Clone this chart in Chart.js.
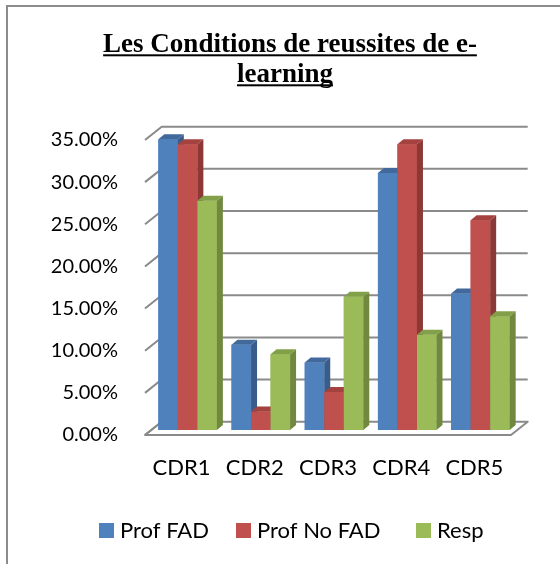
<!DOCTYPE html>
<html>
<head>
<meta charset="utf-8">
<script src="https://cdn.jsdelivr.net/npm/chart.js@4.4.1/dist/chart.umd.min.js"></script>
<style>
    html, body { margin: 0; padding: 0; background: #ffffff; }
    #wrap { position: relative; width: 560px; height: 564px; }
</style>
</head>
<body>
<div id="wrap"><canvas id="cdrChart" width="560" height="564"></canvas></div>
<script>
// values (percent)
const categories = ['CDR1', 'CDR2', 'CDR3', 'CDR4', 'CDR5'];
const profFAD = [34.5, 10.1, 8.0, 30.5, 16.2];
const profNoFAD = [33.9, 2.2, 4.5, 33.9, 24.9];
const resp = [27.2, 9.0, 15.8, 11.3, 13.5];
const yTicks = [0, 5, 10, 15, 20, 25, 30, 35];
const titleLines = ['Les Conditions de reussites de e-', 'learning'];
const seriesNames = ['Prof FAD', 'Prof No FAD', 'Resp'];

const frontColors = ['#4F81BD', '#C0504D', '#9BBB59'];
const sideColors = ['#385D8A', '#8C3836', '#71893F'];
const topColors = ['#41699C', '#A3423F', '#82A049'];

const labelFont = "Lato, 'Open Sans', sans-serif";

// 3d offsets, relative to the plane the bars stand in
const DEPTH = { dx: 6, dy: -5 };
const FRONT = { dx: -6, dy: 5 };
const BACK = { dx: 10.7, dy: -8.3 };

function poly(ctx, pts, fill) {
    ctx.beginPath();
    ctx.moveTo(pts[0][0], pts[0][1]);
    for (let i = 1; i < pts.length; i++) ctx.lineTo(pts[i][0], pts[i][1]);
    ctx.closePath();
    ctx.fillStyle = fill;
    ctx.fill();
}

const frame3d = {
    id: 'frame3d',
    beforeDatasetsDraw(chart) {
        const { ctx, chartArea: a, scales } = chart;
        const y = scales.y;
        ctx.save();
        ctx.strokeStyle = '#8a8a8a';
        ctx.lineWidth = 2;
        ctx.lineJoin = 'round';

        // back wall gridlines + left wall diagonals
        yTicks.forEach((v) => {
            const py = y.getPixelForValue(v);
            ctx.beginPath();
            ctx.moveTo(a.left + FRONT.dx, py + FRONT.dy);
            ctx.lineTo(a.left + BACK.dx, py + BACK.dy);
            if (v > 0) ctx.lineTo(a.right + BACK.dx, py + BACK.dy);
            ctx.stroke();
        });

        // floor
        const b = y.getPixelForValue(0);
        ctx.beginPath();
        ctx.moveTo(a.left + FRONT.dx, b + FRONT.dy);
        ctx.lineTo(a.right + FRONT.dx, b + FRONT.dy);
        ctx.lineTo(a.right + BACK.dx, b + BACK.dy);
        ctx.lineTo(a.left + BACK.dx, b + BACK.dy);
        ctx.closePath();
        ctx.stroke();
        ctx.restore();
    },
    afterDatasetsDraw(chart) {
        const { ctx } = chart;
        const metas = chart.data.datasets.map((d, i) => chart.getDatasetMeta(i));
        ctx.save();
        for (let j = 0; j < categories.length; j++) {
            metas.forEach((meta, i) => {
                const el = meta.data[j];
                el.draw(ctx);
                const { x, y, base, width } = el.getProps(['x', 'y', 'base', 'width'], true);
                const l = x - width / 2;
                const r = x + width / 2;
                poly(ctx, [[r, y], [r + DEPTH.dx, y + DEPTH.dy], [r + DEPTH.dx, base + DEPTH.dy], [r, base]], sideColors[i]);
                poly(ctx, [[l, y], [r, y], [r + DEPTH.dx, y + DEPTH.dy], [l + DEPTH.dx, y + DEPTH.dy]], topColors[i]);
            });
        }
        ctx.restore();
    },
};

const decorations = {
    id: 'decorations',
    afterDraw(chart) {
        const { ctx } = chart;
        ctx.save();

        // outer frame (left and top edges only are visible)
        ctx.strokeStyle = '#8c8c8c';
        ctx.lineWidth = 2;
        ctx.beginPath();
        ctx.moveTo(7, 564);
        ctx.lineTo(7, 6);
        ctx.lineTo(560, 6);
        ctx.stroke();

        // title, bold and underlined
        ctx.fillStyle = '#000000';
        ctx.font = "bold 27px 'Liberation Serif', 'Times New Roman', serif";
        ctx.textAlign = 'left';
        ctx.textBaseline = 'alphabetic';
        const centers = [290, 285];
        const baselines = [51.7, 81.7];
        titleLines.forEach((line, i) => {
            const w = ctx.measureText(line).width;
            const x0 = centers[i] - w / 2;
            ctx.fillText(line, x0, baselines[i]);
            ctx.fillRect(x0, baselines[i] + 2.6, w, 2);
        });

        // legend
        ctx.font = '22px ' + labelFont;
        ctx.textBaseline = 'middle';
        const legendX = [99, 236, 416];
        seriesNames.forEach((name, i) => {
            ctx.fillStyle = frontColors[i];
            ctx.fillRect(legendX[i], 523, 15, 15);
            ctx.fillStyle = '#000000';
            ctx.fillText(name, legendX[i] + 21, 531);
        });
        ctx.restore();
    },
};

const ctx = document.getElementById('cdrChart').getContext('2d');

new Chart(ctx, {
    type: 'bar',
    data: {
        labels: categories,
        datasets: [
            { label: seriesNames[0], data: profFAD, backgroundColor: frontColors[0] },
            { label: seriesNames[1], data: profNoFAD, backgroundColor: frontColors[1] },
            { label: seriesNames[2], data: resp, backgroundColor: frontColors[2] },
        ],
    },
    options: {
        responsive: false,
        animation: false,
        devicePixelRatio: 1,
        categoryPercentage: 0.8,
        barPercentage: 1.0,
        layout: {
            padding: { top: 135, right: 43, bottom: 0, left: 0 },
        },
        plugins: {
            legend: { display: false },
            title: { display: false },
            tooltip: { enabled: false },
        },
        scales: {
            x: {
                grid: { display: false, drawTicks: false },
                border: { display: false },
                afterFit(scale) { scale.height = 134; },
                ticks: {
                    color: '#000000',
                    padding: 25,
                    labelOffset: -6,
                    maxRotation: 0,
                    font: { family: labelFont, size: 22 },
                },
            },
            y: {
                min: 0,
                max: 35,
                grid: { display: false, drawTicks: false },
                border: { display: false },
                afterFit(scale) { scale.width = 151; },
                afterBuildTicks(scale) {
                    scale.ticks = yTicks.map((v) => ({ value: v }));
                },
                ticks: {
                    color: '#000000',
                    padding: 33,
                    labelOffset: 5,
                    font: { family: labelFont, size: 20 },
                    callback(value) {
                        return value.toFixed(2) + '%';
                    },
                },
            },
        },
    },
    plugins: [frame3d, decorations],
});
</script>
</body>
</html>
